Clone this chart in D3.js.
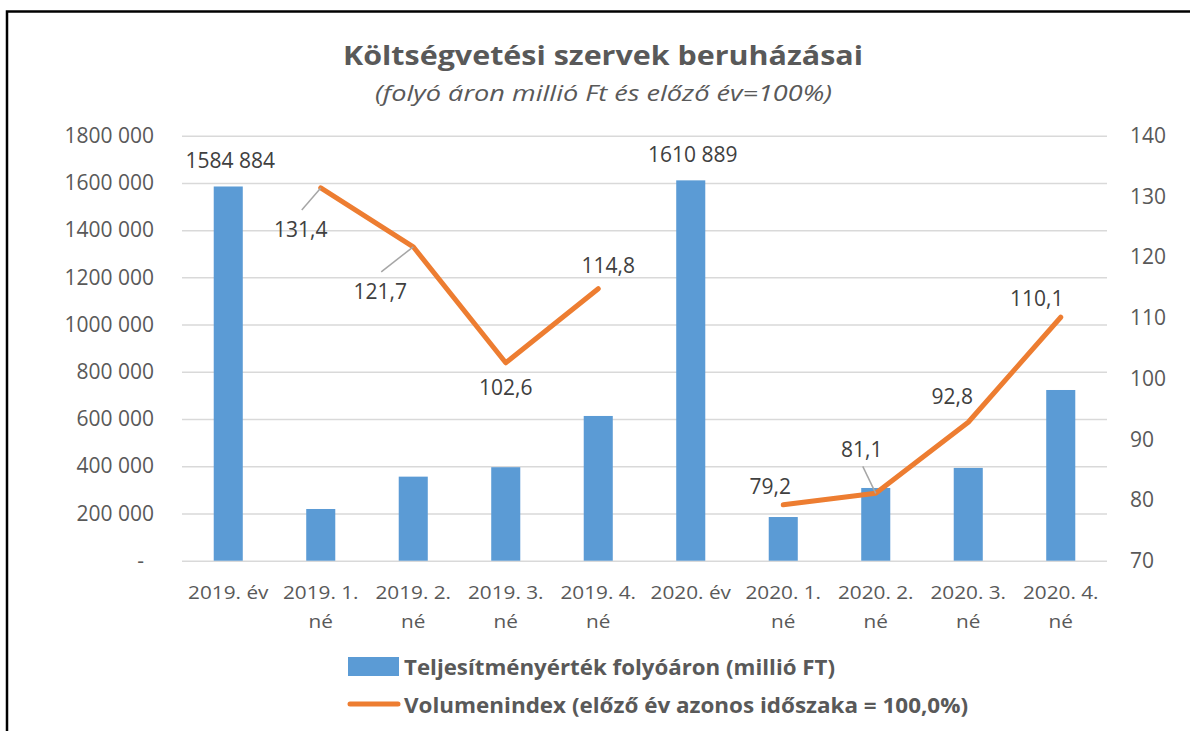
<!DOCTYPE html>
<meta charset="utf-8">
<style>
  body { margin: 0; background: #fff; }
  text { font-family: "Open Sans", sans-serif; }
</style>
<svg width="1190" height="731"></svg>
<script src="https://d3js.org/d3.v7.min.js"></script>
<script>

  // data
  var categories = ["2019. év", "2019. 1. né", "2019. 2. né", "2019. 3. né", "2019. 4. né",
                    "2020. év", "2020. 1. né", "2020. 2. né", "2020. 3. né", "2020. 4. né"];
  var teljesitmeny = [1584884, 219000, 356000, 396000, 613000, 1610889, 185000, 308000, 393000, 723000];
  var volumenindex = [null, 131.4, 121.7, 102.6, 114.8, null, 79.2, 81.1, 92.8, 110.1];
  var barLabelShown = [true, false, false, false, false, true, false, false, false, false];
  var leftTicks = [0, 200000, 400000, 600000, 800000, 1000000, 1200000, 1400000, 1600000, 1800000];
  var rightTicks = [70, 80, 90, 100, 110, 120, 130, 140];
  var seriesNames = ["Teljesítményérték folyóáron (millió FT)",
                     "Volumenindex (előző év azonos időszaka = 100,0%)"];
  var title = "Költségvetési szervek beruházásai",
      subtitle = "(folyó áron millió Ft és előző év=100%)";

  // label placement (layout, not data): offset of each line label from its point
  var lineLabelOffset = [null, [-20, 42], [-33, 45], [0, 25], [10, -23], null, [-13, -18], [-14, -44], [-16, -26], [-24, -19]];
  var leaderOffset = [null, [-19, 22], [-32, 25], null, null, null, null, [-13, -27], null, null];

  var svg = d3.select("svg"),
      blue = "#5B9BD5", orange = "#ED7D31", grey = "#595959", dark = "#404040";

  var loc = d3.formatLocale({decimal: ",", thousands: " ", grouping: [3, 10], currency: ["", ""]}),
      fmtInt = loc.format(",d"),
      fmtDec = loc.format(".1f");

  var pLeft = 182, pRight = 1107, pTop = 135.7, pBottom = 560.7;

  var x = d3.scaleBand().domain(categories).range([pLeft, pRight]),
      y = d3.scaleLinear().domain([0, 1800000]).range([pBottom, pTop]),
      y2 = d3.scaleLinear().domain([70, 140]).range([pBottom, pTop]);

  // frame
  svg.append("path")
      .attr("d", "M7,731V11.5H1190")
      .attr("fill", "none").attr("stroke", "#000").attr("stroke-width", 2.5);

  // titles
  svg.append("text").text(title)
      .attr("x", 603).attr("y", 65).attr("text-anchor", "middle")
      .attr("font-size", 27).attr("font-weight", "bold").attr("fill", grey)
      .attr("textLength", 520).attr("lengthAdjust", "spacingAndGlyphs");
  svg.append("text").text(subtitle)
      .attr("x", 603.5).attr("y", 101).attr("text-anchor", "middle")
      .attr("font-size", 21.5).attr("font-style", "italic").attr("fill", grey)
      .attr("textLength", 457).attr("lengthAdjust", "spacingAndGlyphs");

  // gridlines
  var grid = svg.append("g").attr("transform", "translate(" + pLeft + ",0)")
      .call(d3.axisLeft(y).tickValues(leftTicks).tickSize(-(pRight - pLeft)).tickFormat(""));
  grid.select(".domain").remove();
  grid.selectAll("line").attr("stroke", "#D9D9D9").attr("stroke-width", 1.5);

  // left axis
  var ax1 = svg.append("g").attr("transform", "translate(" + pLeft + ",0)")
      .call(d3.axisLeft(y).tickValues(leftTicks).tickSize(0).tickPadding(28)
        .tickFormat(function(d) { return d === 0 ? "-" : fmtInt(d); }));
  ax1.select(".domain").remove();
  ax1.selectAll("text").attr("font-size", 21).attr("fill", grey).attr("font-family", "Open Sans");
  ax1.selectAll("text").filter(function(d) { return d === 0; }).attr("dx", -10);

  // right axis
  var ax2 = svg.append("g").attr("transform", "translate(" + pRight + ",0)")
      .call(d3.axisRight(y2).tickValues(rightTicks).tickSize(0).tickPadding(23));
  ax2.select(".domain").remove();
  ax2.selectAll("text").attr("font-size", 21).attr("fill", grey).attr("font-family", "Open Sans");

  // category labels
  var cat = svg.append("g").selectAll("g").data(categories).enter().append("g")
      .attr("transform", function(d) { return "translate(" + (x(d) + x.bandwidth() / 2) + ",0) scale(1.18,1)"; });
  cat.each(function(d) {
    var lines = / né$/.test(d) ? [d.slice(0, -3), "né"] : [d];
    d3.select(this).selectAll("text").data(lines).enter().append("text")
        .attr("x", 0).attr("y", function(l, i) { return 593 + i * 29; })
        .attr("dy", "0.35em").attr("text-anchor", "middle")
        .attr("font-size", 17.6).attr("fill", grey)
        .text(function(l) { return l; });
  });

  // bars
  var bw = x.bandwidth() * 0.314;
  svg.append("g").selectAll("rect").data(teljesitmeny).enter().append("rect")
      .attr("x", function(d, i) { return x(categories[i]) + (x.bandwidth() - bw) / 2; })
      .attr("y", function(d) { return y(d); })
      .attr("width", bw)
      .attr("height", function(d) { return pBottom - y(d); })
      .attr("fill", blue);

  svg.append("g").selectAll("text").data(teljesitmeny.filter(function(d, i) { return barLabelShown[i]; }))
      .enter().append("text")
      .attr("x", function(d) { var i = teljesitmeny.indexOf(d); return x(categories[i]) + x.bandwidth() / 2 + 2; })
      .attr("y", function(d) { return y(d) - 26; })
      .attr("dy", "0.35em").attr("text-anchor", "middle")
      .attr("font-size", 21).attr("fill", dark)
      .text(function(d) { return fmtInt(d); });

  // line
  var px = function(i) { return x(categories[i]) + x.bandwidth() / 2; };
  var line = d3.line()
      .defined(function(d) { return d != null; })
      .x(function(d, i) { return px(i); })
      .y(function(d) { return y2(d); });

  svg.append("path").datum(volumenindex)
      .attr("d", line)
      .attr("fill", "none").attr("stroke", orange).attr("stroke-width", 5)
      .attr("stroke-linejoin", "round").attr("stroke-linecap", "round");

  // leader lines
  svg.append("g").selectAll("line").data(volumenindex.map(function(d, i) { return i; })
        .filter(function(i) { return leaderOffset[i]; }))
      .enter().append("line")
      .attr("x1", function(i) { return px(i); })
      .attr("y1", function(i) { return y2(volumenindex[i]); })
      .attr("x2", function(i) { return px(i) + leaderOffset[i][0]; })
      .attr("y2", function(i) { return y2(volumenindex[i]) + leaderOffset[i][1]; })
      .attr("stroke", "#A6A6A6").attr("stroke-width", 1.5);

  svg.append("g").selectAll("text").data(volumenindex.map(function(d, i) { return i; })
        .filter(function(i) { return volumenindex[i] != null; }))
      .enter().append("text")
      .attr("x", function(i) { return px(i) + lineLabelOffset[i][0]; })
      .attr("y", function(i) { return y2(volumenindex[i]) + lineLabelOffset[i][1]; })
      .attr("dy", "0.35em").attr("text-anchor", "middle")
      .attr("font-size", 21).attr("fill", dark)
      .text(function(i) { return fmtDec(volumenindex[i]); });

  // legend
  var leg = svg.append("g");
  leg.append("rect").attr("x", 348).attr("y", 657).attr("width", 51).attr("height", 19).attr("fill", blue);
  leg.append("line").attr("x1", 350).attr("x2", 398).attr("y1", 704).attr("y2", 704)
      .attr("stroke", orange).attr("stroke-width", 5).attr("stroke-linecap", "round");
  leg.selectAll("text").data(seriesNames).enter().append("text")
      .attr("x", 404).attr("y", function(d, i) { return 667 + i * 38; })
      .attr("dy", "0.35em")
      .attr("font-size", 22).attr("font-weight", "bold").attr("fill", grey)
      .attr("textLength", function(d, i) { return i ? 564 : 431; })
      .attr("lengthAdjust", "spacingAndGlyphs")
      .text(function(d) { return d; });

</script>
